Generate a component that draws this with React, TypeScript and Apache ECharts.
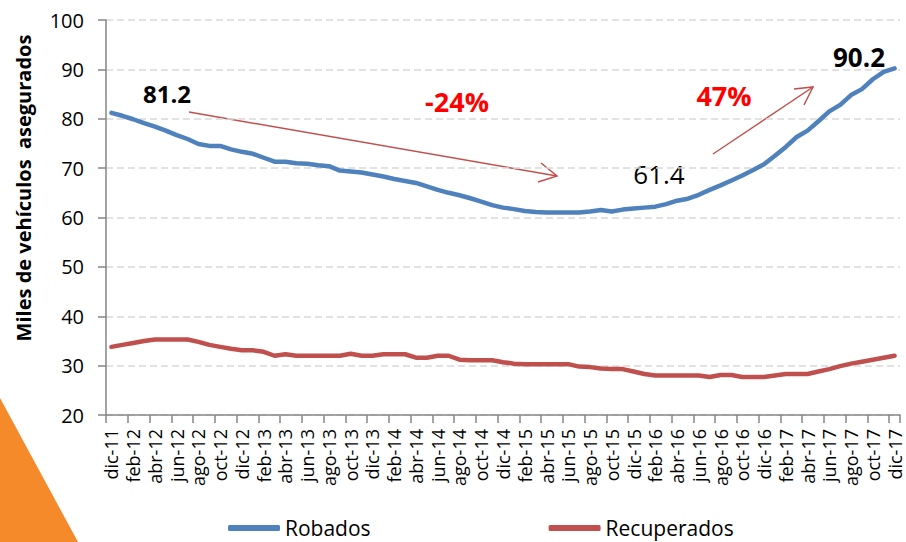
import React, { useEffect, useRef } from "react";
import * as echarts from "echarts";

const categories = [
  "dic-11", "ene-12", "feb-12", "mar-12", "abr-12", "may-12", "jun-12", "jul-12", "ago-12", "sep-12", "oct-12", "nov-12",
  "dic-12", "ene-13", "feb-13", "mar-13", "abr-13", "may-13", "jun-13", "jul-13", "ago-13", "sep-13", "oct-13", "nov-13",
  "dic-13", "ene-14", "feb-14", "mar-14", "abr-14", "may-14", "jun-14", "jul-14", "ago-14", "sep-14", "oct-14", "nov-14",
  "dic-14", "ene-15", "feb-15", "mar-15", "abr-15", "may-15", "jun-15", "jul-15", "ago-15", "sep-15", "oct-15", "nov-15",
  "dic-15", "ene-16", "feb-16", "mar-16", "abr-16", "may-16", "jun-16", "jul-16", "ago-16", "sep-16", "oct-16", "nov-16",
  "dic-16", "ene-17", "feb-17", "mar-17", "abr-17", "may-17", "jun-17", "jul-17", "ago-17", "sep-17", "oct-17", "nov-17",
  "dic-17",
];

const robados = [
  81.2, 80.6, 79.9, 79.1, 78.4, 77.6, 76.7, 75.9, 74.9, 74.5, 74.5, 73.8,
  73.3, 72.9, 72.1, 71.3, 71.3, 71.0, 70.9, 70.6, 70.4, 69.5, 69.3, 69.1,
  68.7, 68.3, 67.8, 67.4, 67.0, 66.3, 65.6, 65.0, 64.5, 63.9, 63.2, 62.5,
  62.0, 61.7, 61.3, 61.1, 61.0, 61.0, 61.0, 61.0, 61.2, 61.5, 61.2, 61.6,
  61.8, 62.0, 62.2, 62.7, 63.4, 63.8, 64.6, 65.6, 66.5, 67.5, 68.5, 69.6,
  70.8, 72.5, 74.3, 76.3, 77.6, 79.5, 81.5, 82.8, 84.8, 86.0, 88.0, 89.5,
  90.2,
];

const recuperados = [
  33.8, 34.2, 34.6, 35.0, 35.3, 35.3, 35.3, 35.3, 34.8, 34.2, 33.8, 33.4,
  33.1, 33.1, 32.8, 32.0, 32.3, 32.0, 32.0, 32.0, 32.0, 32.0, 32.4, 32.0,
  32.0, 32.3, 32.3, 32.3, 31.6, 31.6, 32.0, 32.0, 31.2, 31.1, 31.1, 31.1,
  30.7, 30.4, 30.3, 30.3, 30.3, 30.3, 30.3, 29.8, 29.7, 29.4, 29.3, 29.3,
  28.8, 28.3, 28.0, 28.0, 28.0, 28.0, 28.0, 27.7, 28.1, 28.1, 27.7, 27.7,
  27.7, 28.0, 28.3, 28.3, 28.3, 28.8, 29.3, 29.9, 30.4, 30.8, 31.2, 31.6,
  32.0,
];

const seriesNames = ["Robados", "Recuperados"];
const yTitle = "Miles de vehículos  asegurados";
const annotations = ["81.2", "-24%", "61.4", "47%", "90.2"];

const FONT = '"Open Sans", "DejaVu Sans", sans-serif';
const ARROW = "#C0504D";

export default function App() {
  const ref = useRef<HTMLDivElement>(null);

  useEffect(() => {
    const chart = echarts.init(ref.current!, null, { renderer: "svg" });
    const option: any = {
      animation: false,
      backgroundColor: "#ffffff",
      grid: { left: 106, right: 6, top: 20, bottom: 127, containLabel: false },
      xAxis: {
        type: "category",
        data: categories,
        boundaryGap: true,
        axisLine: { show: true, lineStyle: { color: "#868686", width: 1.5 } },
        axisTick: { show: true, interval: 1, length: 8, lineStyle: { color: "#868686", width: 1.5 } },
        axisLabel: {
          interval: 1,
          rotate: 90,
          margin: 14,
          color: "#000000",
          fontSize: 18,
          lineHeight: 18,
          fontFamily: FONT,
        },
        splitLine: { show: false },
      },
      yAxis: {
        type: "value",
        min: 20,
        max: 100,
        interval: 10,
        axisLine: { show: true, lineStyle: { color: "#868686", width: 1.5 } },
        axisTick: { show: true, length: 8, inside: false, lineStyle: { color: "#868686", width: 1.5 } },
        axisLabel: { color: "#000000", fontSize: 20, fontFamily: FONT, margin: 22 },
        splitLine: { show: true, lineStyle: { color: "#d9d9d9", width: 1.5, type: [7, 4] } },
      },
      legend: {
        left: 228,
        top: 516,
        padding: 0,
        itemGap: 178,
        itemWidth: 52,
        itemHeight: 6,
        icon: "roundRect",
        textStyle: { fontSize: 21, lineHeight: 24, fontFamily: FONT, color: "#000000", padding: [0, 0, 0, 0] },
        data: seriesNames,
      },
      series: [
        {
          name: seriesNames[0],
          type: "line",
          data: robados,
          symbol: "none",
          smooth: false,
          lineStyle: { color: "#4F81BD", width: 4.5, cap: "round", join: "round" },
          itemStyle: { color: "#4F81BD" },
        },
        {
          name: seriesNames[1],
          type: "line",
          data: recuperados,
          symbol: "none",
          smooth: false,
          lineStyle: { color: "#C0504D", width: 4.5, cap: "round", join: "round" },
          itemStyle: { color: "#C0504D" },
        },
      ],
      graphic: [
        {
          type: "polygon",
          z: -10,
          shape: { points: [[0, 398], [78, 542], [0, 542]] },
          style: { fill: "#F58A2B" },
        },
        {
          type: "text",
          x: 23,
          y: 188,
          rotation: Math.PI / 2,
          style: {
            text: yTitle,
            fontSize: 20,
            fontWeight: "bold",
            fontFamily: FONT,
            fill: "#000000",
            align: "center",
            verticalAlign: "middle",
          },
        },
        {
          type: "text",
          x: 167,
          y: 93,
          style: { text: annotations[0], fontSize: 24, fontWeight: "bold", fontFamily: FONT, fill: "#000", align: "center", verticalAlign: "middle" },
        },
        {
          type: "text",
          x: 457,
          y: 101,
          style: { text: annotations[1], fontSize: 27, fontWeight: "bold", fontFamily: FONT, fill: "#FF0000", align: "center", verticalAlign: "middle" },
        },
        {
          type: "text",
          x: 659,
          y: 174,
          style: { text: annotations[2], fontSize: 26, fontWeight: "normal", fontFamily: FONT, fill: "#000", align: "center", verticalAlign: "middle" },
        },
        {
          type: "text",
          x: 724,
          y: 95,
          style: { text: annotations[3], fontSize: 27, fontWeight: "bold", fontFamily: FONT, fill: "#FF0000", align: "center", verticalAlign: "middle" },
        },
        {
          type: "text",
          x: 859,
          y: 57,
          style: { text: annotations[4], fontSize: 26, fontWeight: "bold", fontFamily: FONT, fill: "#000", align: "center", verticalAlign: "middle" },
        },
        {
          type: "line",
          shape: { x1: 189, y1: 112, x2: 557, y2: 176 },
          style: { stroke: ARROW, lineWidth: 1.5 },
        },
        {
          type: "polyline",
          shape: { points: [[541, 163], [557, 176], [538, 182]] },
          style: { stroke: ARROW, lineWidth: 1.5, fill: null },
        },
        {
          type: "line",
          shape: { x1: 713, y1: 154, x2: 813, y2: 87 },
          style: { stroke: ARROW, lineWidth: 1.5 },
        },
        {
          type: "polyline",
          shape: { points: [[794, 89], [813, 87], [804, 105]] },
          style: { stroke: ARROW, lineWidth: 1.5, fill: null },
        },
      ],
    };
    chart.setOption(option);
    return () => chart.dispose();
  }, []);

  return (
    <div
      ref={ref}
      style={{ position: "absolute", left: 0, top: 0, width: 906, height: 542 }}
    />
  );
}
